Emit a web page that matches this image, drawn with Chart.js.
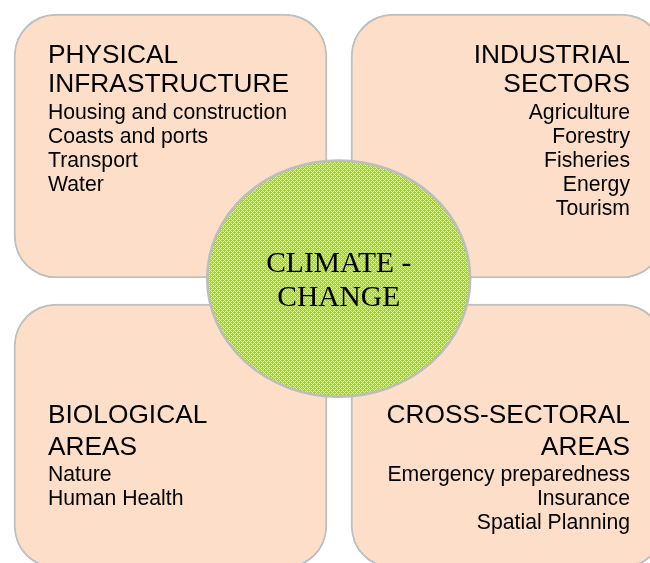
<!DOCTYPE html>
<html>
<head>
<meta charset="utf-8">
<script src="https://cdn.jsdelivr.net/npm/chart.js@4"></script>
<style>
html,body{margin:0;padding:0;background:#fff;}
canvas{display:block;}
</style>
</head>
<body>
<canvas id="chart" width="650" height="563"></canvas>
<script>
// text of the diagram
const titles=[["PHYSICAL","INFRASTRUCTURE"],["INDUSTRIAL","SECTORS"],["BIOLOGICAL","AREAS"],["CROSS-SECTORAL","AREAS"]];
const items=[
["Housing and construction","Coasts and ports","Transport","Water"],
["Agriculture","Forestry","Fisheries","Energy","Tourism"],
["Nature","Human Health"],
["Emergency preparedness","Insurance","Spatial Planning"]
];
const centreText=["CLIMATE -","CHANGE"];

// layout (diagram units = px of the 650x563 picture)
const boxes=[
{x:170.5,y:[14,278],align:"left",tx:48,ty:[63,92],iy:119},
{x:507.5,y:[14,278],align:"right",tx:630,ty:[63,92],iy:119},
{x:170.5,y:[304,568],align:"left",tx:48,ty:[423,455],iy:481},
{x:507.5,y:[304,568],align:"right",tx:630,ty:[423,455],iy:481}
];
const ellipse={cx:338.7,cy:278.6,rx:131.5,ry:118.2};

function pattern(size,base,light,test){
const c=document.createElement("canvas");
c.width=size;c.height=size;
const g=c.getContext("2d");
g.fillStyle=base;g.fillRect(0,0,size,size);
g.fillStyle=light;
for(let y=0;y<size;y++)for(let x=0;x<size;x++)if(test(x,y))g.fillRect(x,y,1,1);
return g.createPattern(c,"repeat");
}
const ctx=document.getElementById("chart").getContext("2d");
const peach="#FDDFC9";
const green=pattern(4,"#A3D322","#DDF0AE",(x,y)=>(x+y)%4==0||(x-y+4)%4==0);

const overlay={
id:"overlay",
afterDatasetsDraw(chart){
const c=chart.ctx,sx=chart.scales.x,sy=chart.scales.y;
c.save();
// centre ellipse
const cx=sx.getPixelForValue(ellipse.cx),cy=sy.getPixelForValue(ellipse.cy);
const rx=sx.getPixelForValue(ellipse.cx+ellipse.rx)-cx,ry=sy.getPixelForValue(ellipse.cy+ellipse.ry)-cy;
c.beginPath();
c.ellipse(cx,cy,Math.abs(rx),Math.abs(ry),0,0,Math.PI*2);
c.fillStyle=green;c.fill();
c.lineWidth=2.5;c.strokeStyle="#BDBDBD";c.stroke();
// box texts
c.fillStyle="#000";
c.textBaseline="alphabetic";
boxes.forEach((b,i)=>{
c.textAlign=b.align;
const tx=sx.getPixelForValue(b.tx);
c.font='26.3px "Liberation Sans", Arial, sans-serif';
titles[i].forEach((t,k)=>c.fillText(t,tx,sy.getPixelForValue(b.ty[k])));
c.font='21.2px "Liberation Sans", Arial, sans-serif';
items[i].forEach((t,k)=>c.fillText(t,tx,sy.getPixelForValue(b.iy+k*24)));
});
c.textAlign="center";
c.font='29.5px "Liberation Serif", "Times New Roman", serif';
c.fillText(centreText[0],cx,sy.getPixelForValue(272));
c.fillText(centreText[1],cx,sy.getPixelForValue(306));
c.restore();
}
};

new Chart(ctx,{
type:"bar",
data:{datasets:[{
data:boxes.map(b=>({x:b.x,y:b.y})),
backgroundColor:peach,
borderColor:"#BFBFBF",
borderWidth:2,
borderRadius:42,
borderSkipped:false,
barThickness:313
}]},
options:{
responsive:false,
animation:false,
layout:{padding:0},
plugins:{legend:{display:false},tooltip:{enabled:false}},
scales:{
x:{type:"linear",min:0,max:650,offset:false,display:false},
y:{type:"linear",min:0,max:563,reverse:true,display:false}
}
},
plugins:[overlay]
});
</script>
</body>
</html>
